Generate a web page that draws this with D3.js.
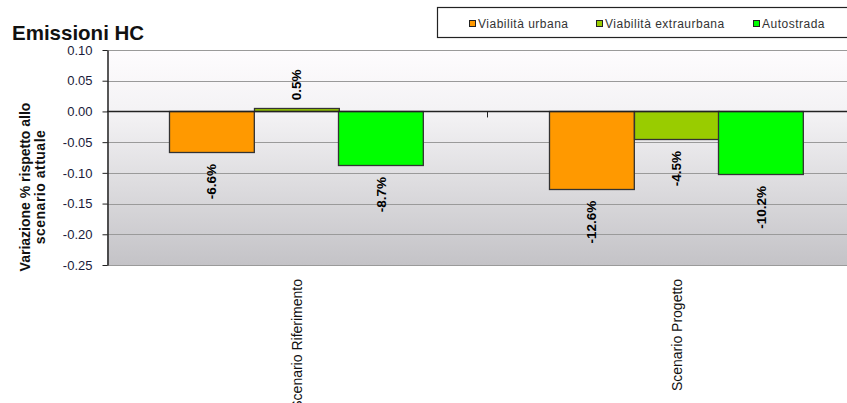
<!DOCTYPE html>
<html lang="it">
<head>
<meta charset="UTF-8">
<title>Emissioni HC</title>
<script src="https://d3js.org/d3.v7.min.js"></script>
<style>
  body { margin: 0; background: #fff; }
  svg { display: block; font-family: "Liberation Sans", Arial, sans-serif; }
</style>
</head>
<body>
<svg width="847" height="403"></svg>
<script>
// data
var categories = ["Scenario Riferimento", "Scenario Progetto"];
var series = ["Viabilità urbana", "Viabilità extraurbana", "Autostrada"];
var colors = ["#FF9900", "#99CC00", "#00FF00"];
var urbana = [-0.066, -0.126];
var extraurbana = [0.005, -0.045];
var autostrada = [-0.087, -0.102];
var yTicks = [0.10, 0.05, 0.00, -0.05, -0.10, -0.15, -0.20, -0.25];

var values = [urbana, extraurbana, autostrada];
var rows = [];
categories.forEach((c, i) => {
  series.forEach((s, j) => rows.push({ cat: c, ser: s, v: values[j][i], col: colors[j] }));
});

var svg = d3.select("svg");
var plotL = 107, plotR = 867, plotT = 50, plotB = 265;

var x0 = d3.scaleBand().domain(categories).range([plotL, plotR]).padding(0);
var x1 = d3.scaleBand().domain(series).range([0, x0.bandwidth()]).paddingInner(0).paddingOuter(0.74);
var y = d3.scaleLinear().domain([-0.25, 0.10]).range([plotB, plotT]);

// background gradient
var grad = svg.append("defs").append("linearGradient")
  .attr("id", "bg").attr("x1", 0).attr("y1", 0).attr("x2", 0).attr("y2", 1);
grad.append("stop").attr("offset", "0%").attr("stop-color", "#FEFCFE");
grad.append("stop").attr("offset", "30%").attr("stop-color", "#F3F2F4");
grad.append("stop").attr("offset", "100%").attr("stop-color", "#C4C3C7");

svg.append("rect")
  .attr("x", plotL).attr("y", plotT)
  .attr("width", plotR - plotL).attr("height", plotB - plotT)
  .attr("fill", "url(#bg)");

// gridlines
svg.append("g").selectAll("line").data(yTicks).enter().append("line")
  .attr("x1", plotL).attr("x2", plotR)
  .attr("y1", d => Math.round(y(d)) + 0.5).attr("y2", d => Math.round(y(d)) + 0.5)
  .attr("stroke", "#9A9A9A").attr("stroke-width", 1.2);

// y axis
var yAxis = svg.append("g")
  .attr("transform", "translate(" + (plotL + 0.5) + ",0)")
  .call(d3.axisLeft(y).tickValues(yTicks).tickFormat(d => d.toFixed(2)).tickSize(5).tickSizeOuter(0).tickPadding(10));
yAxis.select(".domain").attr("stroke", "#222").attr("stroke-width", 1.5);
yAxis.selectAll(".tick line").attr("stroke", "#222");
yAxis.selectAll("text").attr("font-size", 13).attr("fill", "#1a1a3a").attr("font-family", "Liberation Sans, Arial, sans-serif");

// bars
svg.append("g").selectAll("rect").data(rows).enter().append("rect")
  .attr("x", d => Math.round(x0(d.cat) + x1(d.ser)) - 0.5)
  .attr("y", d => Math.round(y(Math.max(0, d.v))) + 0.5)
  .attr("width", x1.bandwidth())
  .attr("height", d => Math.abs(Math.round(y(d.v)) - Math.round(y(0))))
  .attr("fill", d => d.col)
  .attr("stroke", "#333").attr("stroke-width", 1.3);

// zero line + category ticks
svg.append("line")
  .attr("x1", plotL).attr("x2", plotR)
  .attr("y1", Math.round(y(0)) + 0.5).attr("y2", Math.round(y(0)) + 0.5)
  .attr("stroke", "#222").attr("stroke-width", 1.3);
svg.append("g").selectAll("line").data(categories.slice(1)).enter().append("line")
  .attr("x1", d => x0(d) + 0.5).attr("x2", d => x0(d) + 0.5)
  .attr("y1", y(0)).attr("y2", y(0) + 6)
  .attr("stroke", "#222");

// value labels
svg.append("g").selectAll("text").data(rows).enter().append("text")
  .attr("transform", d => {
    var cx = x0(d.cat) + x1(d.ser) + x1.bandwidth() / 2 + 4;
    var cy = d.v < 0 ? y(d.v) + 12 : y(d.v) - 8;
    return "translate(" + cx + "," + cy + ") rotate(-90)";
  })
  .attr("text-anchor", d => d.v < 0 ? "end" : "start")
  .attr("font-size", 13.5).attr("font-weight", "bold").attr("fill", "#000")
  .text(d => (d.v * 100).toFixed(1) + "%");

// category labels
svg.append("g").selectAll("text").data(categories).enter().append("text")
  .attr("transform", d => "translate(" + (x0(d) + x0.bandwidth() / 2 + 5) + ",279) rotate(-90)")
  .attr("text-anchor", "end")
  .attr("font-size", 14).attr("fill", "#111")
  .text(d => d);

// y axis title
var yt = svg.append("text")
  .attr("transform", "translate(0,187) rotate(-90)")
  .attr("text-anchor", "middle")
  .attr("font-size", 14).attr("font-weight", "bold").attr("fill", "#111");
yt.append("tspan").attr("x", 0).attr("y", 30).text("Variazione % rispetto allo");
yt.append("tspan").attr("x", 0).attr("y", 45).attr("letter-spacing", 0.5).text("scenario attuale");

// title
svg.append("text")
  .attr("x", 12).attr("y", 40)
  .attr("font-size", 20.5).attr("font-weight", "bold").attr("fill", "#111")
  .text("Emissioni HC");

// legend
svg.append("rect")
  .attr("x", 437.5).attr("y", 7.5).attr("width", 420).attr("height", 30)
  .attr("fill", "#fff").attr("stroke", "#222").attr("stroke-width", 1.2);
var legX = [469, 596, 753];
var leg = svg.append("g").selectAll("g").data(series).enter().append("g")
  .attr("transform", (d, i) => "translate(" + legX[i] + ",20)");
leg.append("rect")
  .attr("x", 0.5).attr("y", 0.5).attr("width", 6).attr("height", 6)
  .attr("fill", (d, i) => colors[i]).attr("stroke", "#222");
leg.append("text")
  .attr("x", 9).attr("y", 8)
  .attr("font-size", 12).attr("letter-spacing", 0.5).attr("fill", "#333")
  .text(d => d);
</script>
</body>
</html>
